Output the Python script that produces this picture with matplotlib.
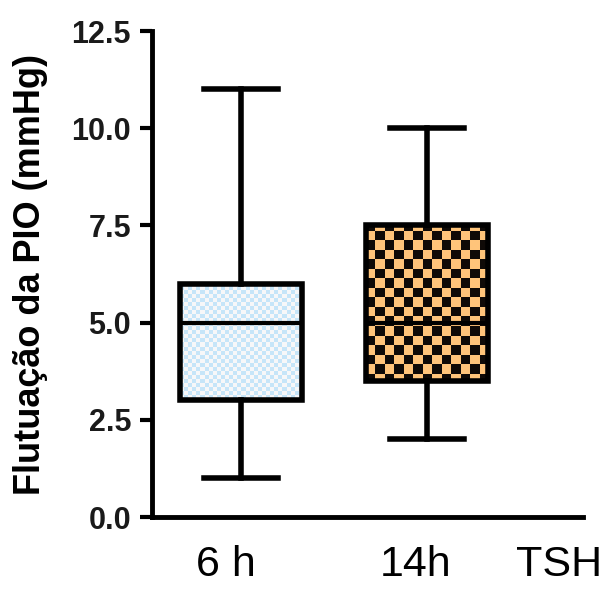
import numpy as np
import matplotlib
matplotlib.use("Agg")
import matplotlib.pyplot as plt

plt.rcParams['font.family'] = ['Liberation Sans', 'DejaVu Sans']

groups = ["6 h", "14h"]
whisker_lo = [1.0, 2.0]
q1 = [3.0, 3.5]
median = [5.0, 5.0]
q3 = [6.0, 7.5]
whisker_hi = [11.0, 10.0]
extra_label = "TSH"
yticks = [0.0, 2.5, 5.0, 7.5, 10.0, 12.5]

fig = plt.figure(figsize=(6.10, 5.91), dpi=100)
ax = fig.add_axes([0.249, 0.125, 0.707, 0.8225])

stats = []
for i, g in enumerate(groups):
    stats.append(dict(label=g, whislo=whisker_lo[i], q1=q1[i], med=median[i],
                      q3=q3[i], whishi=whisker_hi[i], fliers=[]))

positions = [1, 2]
bp = ax.bxp(stats, positions=positions, widths=0.66, patch_artist=True,
            showfliers=False, capwidths=0.4,
            boxprops=dict(linewidth=4, edgecolor='black', facecolor='none'),
            whiskerprops=dict(linewidth=4, color='black'),
            capprops=dict(linewidth=4, color='black'),
            medianprops=dict(linewidth=3, color='black'))

# checkerboard fills clipped to boxes
def checker(c1, c2, nx, ny):
    a = (np.add.outer(np.arange(ny), np.arange(nx)) % 2)
    img = np.zeros((ny, nx, 3))
    for k in range(3):
        img[..., k] = np.where(a > 0, c1[k], c2[k])
    return img

fills = [((0.78, 0.90, 0.98), (0.97, 0.97, 0.98)),
         ((1.00, 0.77, 0.48), (0.06, 0.04, 0.03))]
grid = [(30, 120), (13, 51)]
for i, box in enumerate(bp['boxes']):
    p = positions[i]
    nx, ny = grid[i]
    img = checker(fills[i][0], fills[i][1], nx, ny)
    im = ax.imshow(img, extent=[p - 0.33, p + 0.33, 0, 12.5], aspect='auto',
                   interpolation='nearest', zorder=1.5)
    im.set_clip_path(box)
    box.set_zorder(2)

ax.set_xlim(0.52, 2.84)
ax.set_ylim(0, 12.5)
ax.set_aspect('auto')

for s in ['top', 'right']:
    ax.spines[s].set_visible(False)
ax.spines['left'].set_linewidth(3.5)
ax.spines['bottom'].set_linewidth(3.5)

ax.set_yticks(yticks)
ax.set_yticklabels([f"{v:.1f}" for v in yticks], fontsize=22, fontweight='bold',
                   color='#1a1a1a')
ax.tick_params(axis='y', length=9, width=3, pad=6)
ax.set_xticks([])

# category labels under the axis (slightly left of box centres, as in the original)
label_x = [positions[0] - 0.08, positions[1] - 0.06, 2.71]
for x, t in zip(label_x, groups + [extra_label]):
    ax.text(x, -1.22, t, fontsize=31, ha='center', va='center', color='black')

ax.set_ylabel("Flutuação da PIO (mmHg)", fontsize=26, fontweight='bold', labelpad=17)

fig.savefig("out.png", dpi=100)
